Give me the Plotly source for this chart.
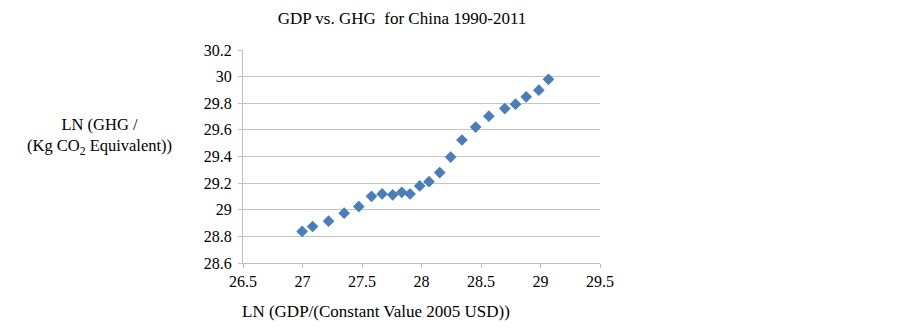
import plotly.graph_objects as go

ln_gdp = [26.997, 27.085, 27.219, 27.35, 27.473, 27.58, 27.669, 27.758, 27.834, 27.904,
          27.985, 28.063, 28.153, 28.245, 28.34, 28.455, 28.566, 28.70, 28.79, 28.88,
          28.986, 29.067]
ln_ghg = [28.837, 28.874, 28.914, 28.974, 29.024, 29.101, 29.119, 29.112, 29.131, 29.119,
          29.179, 29.211, 29.279, 29.396, 29.524, 29.621, 29.703, 29.76, 29.793, 29.848,
          29.898, 29.98]
x_ticks = [26.5, 27, 27.5, 28, 28.5, 29, 29.5]
y_ticks = [28.6, 28.8, 29, 29.2, 29.4, 29.6, 29.8, 30, 30.2]

font = "Liberation Serif, Times New Roman, serif"

W, H = 895, 321
L, T, PW, PH = 235, 42, 357, 213

fig = go.Figure(go.Scatter(
    x=ln_gdp, y=ln_ghg, mode="markers",
    marker=dict(symbol="diamond", size=9, color="#4A7EBB", line=dict(width=0)),
))

fig.update_layout(
    width=W, height=H,
    margin=dict(l=L, r=W - L - PW, t=T, b=H - T - PH),
    paper_bgcolor="white", plot_bgcolor="white",
    showlegend=False,
    font=dict(family=font, size=16, color="black"),
    title=dict(text="GDP vs. GHG  for China 1990-2011", x=394 / W, xanchor="center",
               y=1 - 10 / H, yanchor="middle", font=dict(size=17, family=font)),
    xaxis=dict(range=[26.5, 29.5], tickvals=x_ticks, ticktext=[f"{v:g}" for v in x_ticks],
               showgrid=False, zeroline=False, showline=True, linecolor="#BFBFBF", linewidth=1,
               ticks="outside", ticklen=4, tickcolor="#BFBFBF", tickfont=dict(size=16, family=font)),
    yaxis=dict(range=[28.6, 30.2], tickvals=y_ticks, ticktext=[f"{v:g}" for v in y_ticks],
               showgrid=True, gridcolor="#C4C4C4", gridwidth=1.3, zeroline=False,
               showline=True, linecolor="#BFBFBF", linewidth=1,
               ticks="outside", ticklen=4, tickcolor="#BFBFBF", ticklabelstandoff=3,
               tickfont=dict(size=16, family=font)),
    annotations=[
        dict(text="LN (GDP/(Constant Value 2005 USD))", xref="paper", yref="paper",
             x=133 / PW, y=-48 / PH, xanchor="center", yanchor="middle",
             showarrow=False, font=dict(size=17, family=font)),
        dict(text="LN (GHG /<br>(Kg CO<sub>2</sub> Equivalent))", xref="paper", yref="paper",
             x=-144 / PW, y=127 / PH, xanchor="center", yanchor="middle",
             align="center", showarrow=False, font=dict(size=16.5, family=font)),
    ],
)

fig.write_html("out.html")
